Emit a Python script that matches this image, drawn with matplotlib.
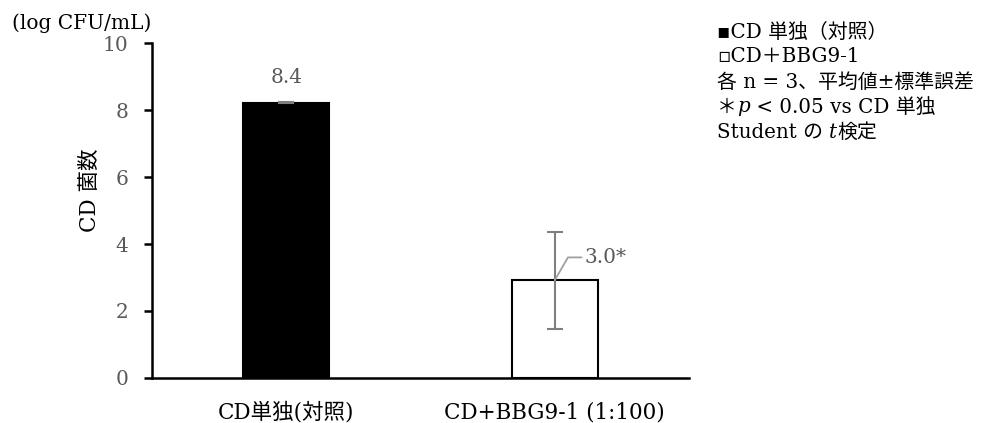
import matplotlib
matplotlib.use("Agg")
import matplotlib.pyplot as plt
from matplotlib.offsetbox import TextArea, HPacker, AnchoredOffsetbox

plt.rcParams['font.family'] = ['DejaVu Serif', 'Noto Sans CJK JP', 'DejaVu Sans']

# data
groups = ['CD単独(対照)', 'CD+BBG9-1 (1:100)']
means = [8.22, 2.92]
sems = [0.02, 1.45]
value_labels = ['8.4', '3.0*']
bar_colors = ['black', 'white']
yticks = [0, 2, 4, 6, 8, 10]

GRAY = '#595959'

fig = plt.figure(figsize=(10.02, 4.23), dpi=100)
ax = fig.add_axes([0.1517, 0.1064, 0.536, 0.7919])

x = list(range(len(groups)))
ax.bar(x, means, width=0.32, color=bar_colors, edgecolor='black', linewidth=1.5,
       yerr=sems, ecolor='#7f7f7f', error_kw=dict(elinewidth=1.5, capsize=6, capthick=1.5))

ax.set_xlim(-0.5, 1.5)
ax.set_ylim(0, 10)
ax.set_yticks(yticks)
ax.set_xticks(x)
ax.set_xticklabels(groups, fontsize=15.5)
ax.tick_params(axis='x', length=0, pad=17)
ax.tick_params(axis='y', length=6, width=1.8, pad=11, labelsize=14.5, labelcolor=GRAY, direction='out')
for s in ['top', 'right']:
    ax.spines[s].set_visible(False)
for s in ['left', 'bottom']:
    ax.spines[s].set_linewidth(1.8)

ax.set_ylabel('CD 菌数', fontsize=15.5)
ax.yaxis.set_label_coords(-0.095, 0.56)

# value labels
ax.text(x[0], means[0] + 0.75, value_labels[0], ha='center', va='center',
        fontsize=14.5, color=GRAY)
ax.annotate(value_labels[1], xy=(x[1], means[1]), xytext=(x[1] + 0.11, means[1] + 0.68),
            ha='left', va='center', fontsize=14.5, color=GRAY,
            arrowprops=dict(arrowstyle='-', color='#a0a0a0', lw=1.3,
                            connectionstyle='angle,angleA=0,angleB=60,rad=0',
                            shrinkA=0, shrinkB=0))

fig.text(12 / 1002, 1 - 23 / 423, '(log CFU/mL)', fontsize=14.5, ha='left', va='center')

# note block on the right, one row at a time
fs = 14.3


def piece(s, italic=False):
    return TextArea(s, textprops=dict(fontsize=fs, color='black',
                                      fontstyle='italic' if italic else 'normal'))


lines = [
    [piece('▪CD 単独（対照）')],
    [piece('▫CD＋BBG9-1')],
    [piece('各 n = 3、平均値±標準誤差')],
    [piece('＊'), piece('p', True), piece(' < 0.05 vs CD 単独')],
    [piece('Student の '), piece('t', True), piece('検定')],
]
row_y = [32, 57, 82, 107, 132]
for parts, yy in zip(lines, row_y):
    row = HPacker(children=parts, pad=0, sep=0, align='baseline')
    box = AnchoredOffsetbox(loc='center left', child=row, frameon=False, pad=0, borderpad=0,
                            bbox_to_anchor=(717 / 1002, 1 - yy / 423),
                            bbox_transform=fig.transFigure)
    fig.add_artist(box)

fig.savefig('out.png', dpi=100)
